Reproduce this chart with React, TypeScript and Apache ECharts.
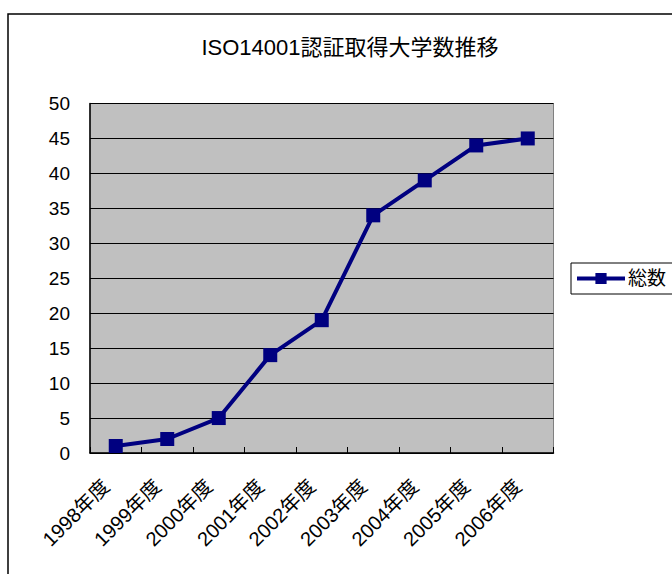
import React, { useEffect, useRef } from "react";
import * as echarts from "echarts";

const titleText = "ISO14001認証取得大学数推移";
const categories = ["1998年度", "1999年度", "2000年度", "2001年度", "2002年度", "2003年度", "2004年度", "2005年度", "2006年度"];
const seriesName = "総数";
const totals = [1, 2, 5, 14, 19, 34, 39, 44, 45];

export default function App() {
  const ref = useRef<HTMLDivElement>(null);
  useEffect(() => {
    if (!ref.current) return;
    const chart = echarts.init(ref.current, null, { renderer: "svg" });
    const font = "'Liberation Sans', Arial, 'Noto Sans CJK JP', sans-serif";
    chart.setOption({
      animation: false,
      backgroundColor: "#ffffff",
      textStyle: { fontFamily: font },
      title: {
        text: titleText,
        left: 345,
        textAlign: "center",
        top: 31,
        textStyle: { fontSize: 22, fontWeight: "normal", color: "#000", fontFamily: font },
      },
      graphic: [
        {
          type: "rect",
          shape: { x: 8, y: 14, width: 700, height: 600 },
          style: { fill: "none", stroke: "#000", lineWidth: 1.5 },
          silent: true,
          z: -1,
        },
      ],
      legend: {
        left: 571,
        top: 263,
        orient: "vertical",
        padding: [6, 20, 6, 4],
        borderColor: "#000",
        borderWidth: 1,
        itemWidth: 48,
        itemHeight: 14,
        itemGap: 0,
        lineStyle: { width: 4, color: "#000080" },
        textStyle: { fontSize: 19, color: "#000", fontFamily: font, padding: [0, 0, 0, -2] },
        data: [seriesName],
      },
      grid: {
        left: 90,
        top: 103.5,
        right: 118.5,
        bottom: 121,
        show: true,
        backgroundColor: "#C0C0C0",
        borderColor: "#808080",
        borderWidth: 1,
      },
      xAxis: {
        type: "category",
        data: categories,
        boundaryGap: true,
        axisLine: { show: true, lineStyle: { color: "#000", width: 1.5 } },
        axisTick: { show: true, alignWithLabel: false, inside: true, length: 6, lineStyle: { color: "#000" } },
        axisLabel: { rotate: 45, fontSize: 20, color: "#000", margin: 20, padding: [0, 14, 0, 0], fontFamily: font, interval: 0 },
        splitLine: { show: false },
      },
      yAxis: {
        type: "value",
        min: 0,
        max: 50,
        interval: 5,
        axisLine: { show: true, lineStyle: { color: "#000", width: 1.5 } },
        axisTick: { show: true, inside: true, length: 6, lineStyle: { color: "#000" } },
        axisLabel: { fontSize: 19, color: "#000", margin: 20, fontFamily: font },
        splitLine: { show: true, lineStyle: { color: "#000", width: 1 } },
      },
      series: [
        {
          name: seriesName,
          type: "line",
          data: totals,
          symbol: "rect",
          symbolSize: 14,
          lineStyle: { color: "#000080", width: 4 },
          itemStyle: { color: "#000080" },
        },
      ],
    });
    return () => chart.dispose();
  }, []);
  return <div ref={ref} style={{ position: "absolute", left: 0, top: 0, width: 672, height: 574 }} />;
}
